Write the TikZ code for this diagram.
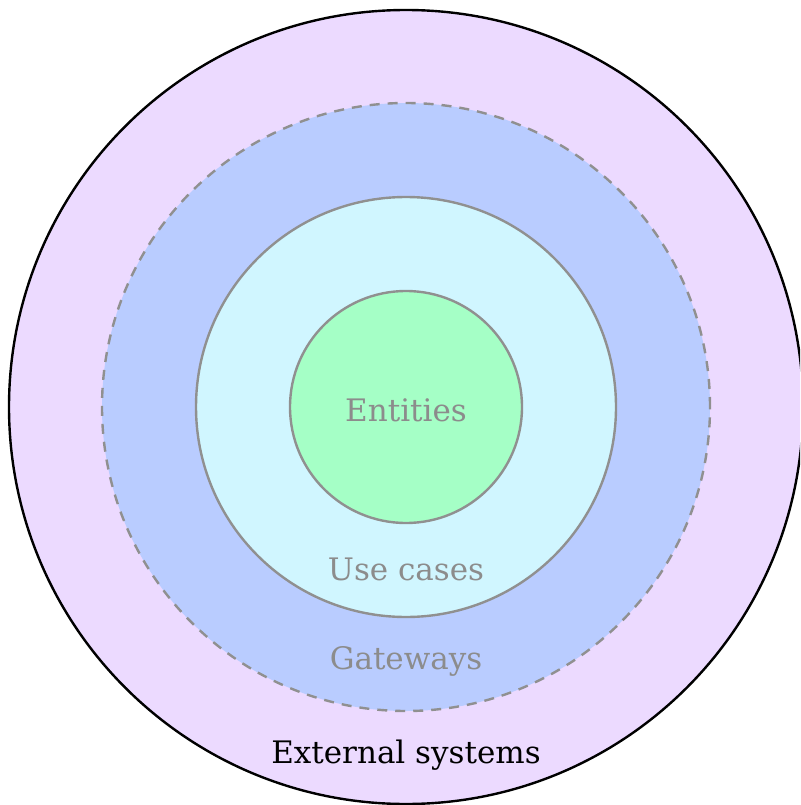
\documentclass[tikz,border=0pt]{standalone}
\usepackage{fontspec}
\setmainfont{DejaVu Serif}
\definecolor{extfill}{HTML}{ECDAFF}
\definecolor{gwfill}{HTML}{B9CCFF}
\definecolor{ucfill}{HTML}{D0F6FF}
\definecolor{entfill}{HTML}{A5FFC6}
\definecolor{ringgray}{HTML}{909090}
\definecolor{labgray}{HTML}{8C8C8C}
\tikzset{
  ring/.style={circle, draw=ringgray, line width=2.4pt, inner sep=0pt},
  lab/.style={font=\fontsize{31}{36}\selectfont, text=labgray, inner sep=0pt},
}
\begin{document}
\begin{tikzpicture}[x=1pt,y=-1pt]
\useasboundingbox (0,0) rectangle (800,805);
\begin{scope}
\clip (0,0) rectangle (800,805);
\node[circle, draw=black, line width=2.4pt, fill=extfill, minimum size=794pt, inner sep=0pt] (ext) at (406,407) {};
\node[ring, fill=gwfill, dash pattern=on 10pt off 8pt, minimum size=608pt] (gw) at (406,407) {};
\node[ring, fill=ucfill, minimum size=420pt] (uc) at (406,407) {};
\node[ring, fill=entfill, minimum size=232pt] (ent) at (406,407) {};
\end{scope}
\node[lab] (tent) at (406,410) {Entities};
\node[lab] (tuc) at (406,569) {Use cases};
\node[lab] (tgw) at (406,661) {Gateways};
\node[lab, text=black] (text) at (406,755) {External systems};
\end{tikzpicture}
\end{document}
